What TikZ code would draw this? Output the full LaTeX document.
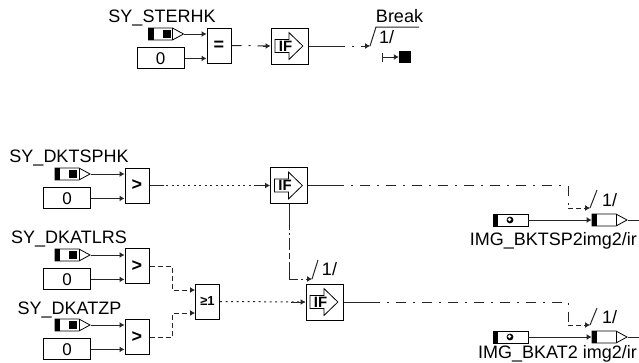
\documentclass[tikz,border=0pt]{standalone}
\usepackage{fontspec}
\setmainfont{Liberation Sans}
\usepackage{xcolor}
\usetikzlibrary{arrows.meta,positioning,calc,shapes.symbols,shapes.arrows}

\begin{document}
\begin{tikzpicture}[
    x=1pt, y=-1pt,
    lbl/.style    = {inner sep=0pt, text height=13pt, text depth=0pt,
                     font=\fontsize{18}{20}\selectfont},
    zerobox/.style = {rectangle, draw=black, line width=1pt, inner sep=0pt,
                     minimum width=47pt, minimum height=21pt,
                     font=\fontsize{17}{20}\selectfont},
    opbox/.style  = {rectangle, draw=black, line width=1pt, inner sep=0pt,
                     minimum width=24pt, minimum height=35pt,
                     font=\bfseries\fontsize{18}{20}\selectfont},
    orbox/.style  = {opbox, font=\bfseries\fontsize{13}{14}\selectfont},
    ifbox/.style  = {rectangle, draw=black, line width=1pt, inner sep=0pt,
                     minimum width=37pt, minimum height=36pt},
    ifarrow/.style = {single arrow, draw=black, line width=0.8pt, inner sep=0pt,
                     minimum width=27pt, minimum height=28pt,
                     single arrow head extend=6pt, single arrow tip angle=88,
                     anchor=tail, font=\bfseries\fontsize{15}{15}\selectfont},
    sigbase/.style = {signal, signal to=east, signal from=nowhere, signal pointer angle=57,
                     draw=black, line width=0.8pt, inner sep=0pt,
                     minimum width=35pt, minimum height=12pt},
    sigsrc/.style = {sigbase, path picture={
                     \fill ([xshift=0pt]path picture bounding box.north west) rectangle
                           ([xshift=5pt]path picture bounding box.south west);
                     \fill ([xshift=14pt,yshift=4pt]path picture bounding box.west) rectangle
                           ([xshift=22pt,yshift=-4pt]path picture bounding box.west);
                     \draw[line width=0.8pt] ([xshift=24pt]path picture bounding box.north west) --
                           ([xshift=24pt]path picture bounding box.south west);}},
    sigdst/.style = {sigbase, path picture={
                     \fill (path picture bounding box.north west) rectangle
                           ([xshift=5pt]path picture bounding box.south west);
                     \draw[line width=0.8pt] ([xshift=24pt]path picture bounding box.north west) --
                           ([xshift=24pt]path picture bounding box.south west);}},
    imgsrc/.style = {rectangle, draw=black, line width=0.8pt, inner sep=0pt,
                     minimum width=35pt, minimum height=12pt, path picture={
                     \fill (path picture bounding box.north west) rectangle
                           ([xshift=5pt]path picture bounding box.south west);
                     \fill ([xshift=17pt]path picture bounding box.west) circle (3.4pt);
                     \fill[white] ([xshift=16.5pt,yshift=0.5pt]path picture bounding box.west) circle (1.8pt);}},
    stopbox/.style = {rectangle, fill=black, inner sep=0pt, minimum size=12pt},
    wire/.style   = {line width=1pt, black!85},
    arr/.style    = {wire, -{Latex[length=5pt,width=6pt]}},
    dashdot/.style = {dash pattern=on 10pt off 7pt on 2pt off 7pt},
    dotline/.style = {dash pattern=on 2pt off 3.5pt},
    dashline/.style = {dash pattern=on 5pt off 3pt},
]
\useasboundingbox (0,0) rectangle (639,362);

% Break branch
\node[sigsrc] (stSig) at (160.5,34) {};
\node[zerobox, below=7pt of stSig] (stZero) {0};
\node[lbl] (stName) at (162,15.5) {SY\_STERHK};
\node[opbox] (stEq) at (219,45.5) {=};
\node[ifbox] (ifBreak) at (289.5,46) {};
\node[ifarrow] (ifBreakA) at ([xshift=4pt]ifBreak.west) {IF};
\coordinate (brkIn) at (370,46);
\coordinate (brkTop) at (376,27);
\coordinate (brkEnd) at (419,27);
\node[lbl] (brkName) at (399.5,15.5) {Break};
\node[lbl] (brkCount) at (386.5,36.5) {1/};
\node[stopbox] (brkStop) at (405,57) {};
\coordinate (brkTick) at (382,57);
\draw[arr] (stSig.east) -- (stSig.east -| stEq.west);
\draw[arr] (stZero.east) -- (stZero.east -| stEq.west);
\draw[wire, dashdot] (stEq.east) -- (ifBreak.west);
\draw[arr] ([xshift=-8pt]ifBreak.west) -- (ifBreak.west);
\draw[arr, dashdot] (ifBreak.east) -- (brkIn);
\draw[wire] (ifBreak.east) -- ++(26,0);
\draw[wire] (brkIn) -- (brkTop) -- (brkEnd);
\draw[wire, {Bar[width=9pt]}-{Latex[length=5pt,width=6pt]}] (brkTick) -- (brkStop.west);

% SY_DKTSPHK branch
\node[sigsrc] (tsSig) at (67,174) {};
\node[zerobox, below=7pt of tsSig] (tsZero) {0};
\node[lbl] (tsName) at (69,156) {SY\_DKTSPHK};
\node[opbox] (tsGt) at (137,185.5) {>};
\node[ifbox] (ifTs) at (289,185.5) {};
\node[ifarrow] (ifTsA) at ([xshift=4pt]ifTs.west) {IF};
\draw[arr] (tsSig.east) -- (tsSig.east -| tsGt.west);
\draw[arr] (tsZero.east) -- (tsZero.east -| tsGt.west);
\draw[wire, dotline] (tsGt.east) -- (ifTs.west);
\draw[wire] (tsGt.east) -- ++(14,0);
\draw[arr] ([xshift=-15pt]ifTs.west) -- (ifTs.west);

% SY_DKATLRS branch
\node[sigsrc] (lrSig) at (67,255) {};
\node[zerobox, below=7pt of lrSig] (lrZero) {0};
\node[lbl] (lrName) at (69,237) {SY\_DKATLRS};
\node[opbox] (lrGt) at (137,266) {>};

% SY_DKATZP branch
\node[sigsrc] (zpSig) at (67,325) {};
\node[zerobox, below=7pt of zpSig] (zpZero) {0};
\node[lbl] (zpName) at (69.5,308) {SY\_DKATZP};
\node[opbox] (zpGt) at (137,337) {>};

% or gate
\node[orbox] (orGate) at (207.5,301.5) {≥1};
\node[ifbox] (ifKat) at (324.5,302) {};
\node[ifarrow] (ifKatA) at ([xshift=4pt]ifKat.west) {IF};
\coordinate (orInA) at (195,290);
\coordinate (orInB) at (195,313);
\draw[arr] (lrSig.east) -- (lrSig.east -| lrGt.west);
\draw[arr] (lrZero.east) -- (lrZero.east -| lrGt.west);
\draw[arr] (zpSig.east) -- (zpSig.east -| zpGt.west);
\draw[arr] (zpZero.east) -- (zpZero.east -| zpGt.west);
\draw[arr, dashline] (lrGt.east) -| (172,290) -- (orInA);
\draw[arr, dashline] (zpGt.east) -| (172,313) -- (orInB);
\draw[wire, dotline] (orGate.east) -- (ifKat.west);
\draw[arr] ([xshift=-15pt]ifKat.west) -- (ifKat.west);

% enable from upper IF to lower IF
\coordinate (enIn) at (312,279);
\coordinate (enTop) at (318,260);
\node[lbl] (enCount) at (329.5,269) {1/};
\draw[arr, dash pattern=on 26pt off 3pt on 2pt off 3pt on 12pt off 3pt on 6pt off 3pt] (ifTs.south) |- (enIn);
\draw[wire] (enIn) -- (enTop);

% outputs
\node[imgsrc] (bkSrc) at (510.5,220) {};
\node[sigdst] (bkDst) at (604,220) {};
\node[lbl, anchor=east] (bkName) at (637,238.5) {IMG\_BKTSP2img2/ir};
\coordinate (bkOut) at (639,220);
\coordinate (bkIn) at (590,208);
\coordinate (bkTop) at (597,190);
\node[lbl] (bkCount) at (609.5,200) {1/};
\draw[arr] (bkSrc.east) -- (bkDst.west);
\draw[wire] (bkDst.east) -- (bkOut);
\draw[wire, dashdot] (ifTs.east) -- (568,185.5) -- (568,208);
\draw[wire] (ifTs.east) -- ++(26,0);
\draw[arr, dashline] (568,208) -- (bkIn);
\draw[wire] (bkIn) -- (bkTop);

\node[imgsrc] (katSrc) at (510.5,337) {};
\node[sigdst] (katDst) at (604,337) {};
\node[lbl, anchor=east] (katName) at (637,351.5) {IMG\_BKAT2 img2/ir};
\coordinate (katOut) at (639,337);
\coordinate (katIn) at (590,325);
\coordinate (katTop) at (597,308);
\node[lbl] (katCount) at (609.5,316.5) {1/};
\draw[arr] (katSrc.east) -- (katDst.west);
\draw[wire] (katDst.east) -- (katOut);
\draw[wire, dashdot] (ifKat.east) -- (568,302) -- (568,325);
\draw[wire] (ifKat.east) -- ++(26,0);
\draw[arr, dashline] (568,325) -- (katIn);
\draw[wire] (katIn) -- (katTop);

\end{tikzpicture}
\end{document}
